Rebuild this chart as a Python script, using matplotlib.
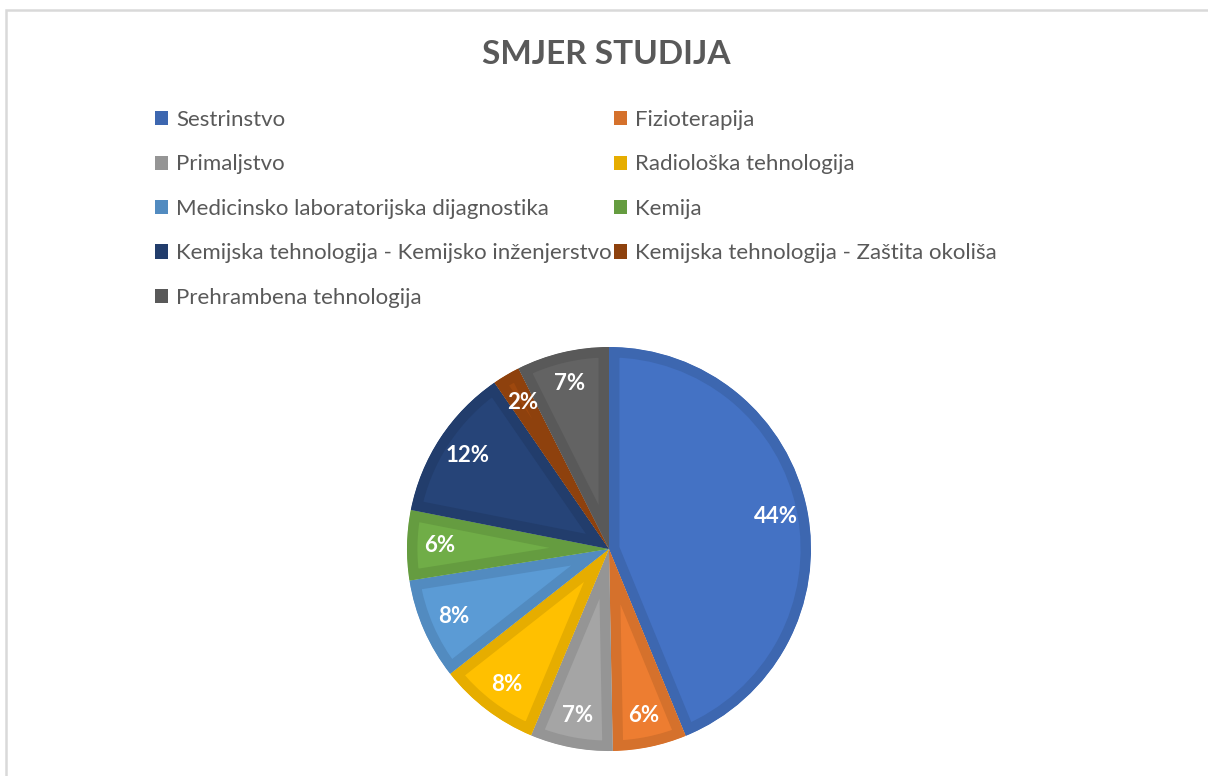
import matplotlib.pyplot as plt
from matplotlib.patches import Patch, Rectangle
import matplotlib.colors as mcolors

# data (shares in %)
categories = ['Sestrinstvo', 'Fizioterapija', 'Primaljstvo', 'Radiološka tehnologija',
              'Medicinsko laboratorijska dijagnostika', 'Kemija',
              'Kemijska tehnologija - Kemijsko inženjerstvo',
              'Kemijska tehnologija - Zaštita okoliša', 'Prehrambena tehnologija']
shares = [43.8, 5.9, 6.6, 8.1, 8.1, 5.6, 12.3, 2.2, 7.4]
colors = ['#4472C4', '#ED7D31', '#A5A5A5', '#FFC000', '#5B9BD5',
          '#70AD47', '#264478', '#9E480E', '#636363']

def darker(c, f=0.9):
    r, g, b = mcolors.to_rgb(c)
    return (r * f, g * f, b * f)

edge_colors = [darker(c) for c in colors]

W, H = 1208, 776
fig = plt.figure(figsize=(W / 100, H / 100), dpi=100)
fig.patch.set_facecolor('white')

# chart frame (light gray, cut off on the right and bottom)
fig.patches.append(Rectangle((6 / W, -0.05), 1.2, (H - 10) / H + 0.05, transform=fig.transFigure,
                             fill=False, edgecolor='#D9D9D9', linewidth=1.8))

# pie placement in pixels
cx, cy, r = 609, 549, 202
pad = 1.05
ax = fig.add_axes([(cx - r * pad) / W, (H - cy - r * pad) / H, 2 * r * pad / W, 2 * r * pad / H])

wedges, texts, autotexts = ax.pie(shares, colors=colors, startangle=90, counterclock=False,
                                  autopct='%.0f%%', pctdistance=0.84,
                                  wedgeprops=dict(linewidth=15))
for w, ec in zip(wedges, edge_colors):
    w.set_edgecolor(ec)
    w.set_clip_on(True)
    w.set_clip_path(w)   # inner stroke only
for t in autotexts:
    t.set_color('white')
    t.set_fontsize(16)
    t.set_fontweight('bold')
    t.set_fontfamily('Lato')
ax.set_xlim(-pad, pad)
ax.set_ylim(-pad, pad)
ax.set_aspect('equal')
ax.axis('off')

fig.text(606 / W, 1 - 54 / H, 'SMJER STUDIJA', ha='center', va='center',
         fontsize=24, fontweight='bold', color='#595959', family='Lato')

# legend, row-major order in two columns
handles = [Patch(facecolor=ec, edgecolor='none') for ec in edge_colors]
order = [0, 2, 4, 6, 8, 1, 3, 5, 7]
leg = fig.legend([handles[i] for i in order], [categories[i] for i in order],
                 ncol=2, loc='upper left', bbox_to_anchor=(155 / W, 1 - 110 / H),
                 frameon=False, prop={'family': 'Lato', 'size': 16},
                 handlelength=0.6, handleheight=0.6, handletextpad=0.35,
                 labelspacing=1.1, columnspacing=0.1, borderpad=0, borderaxespad=0)
for t in leg.get_texts():
    t.set_color('#595959')

fig.savefig('out.png', dpi=100)
